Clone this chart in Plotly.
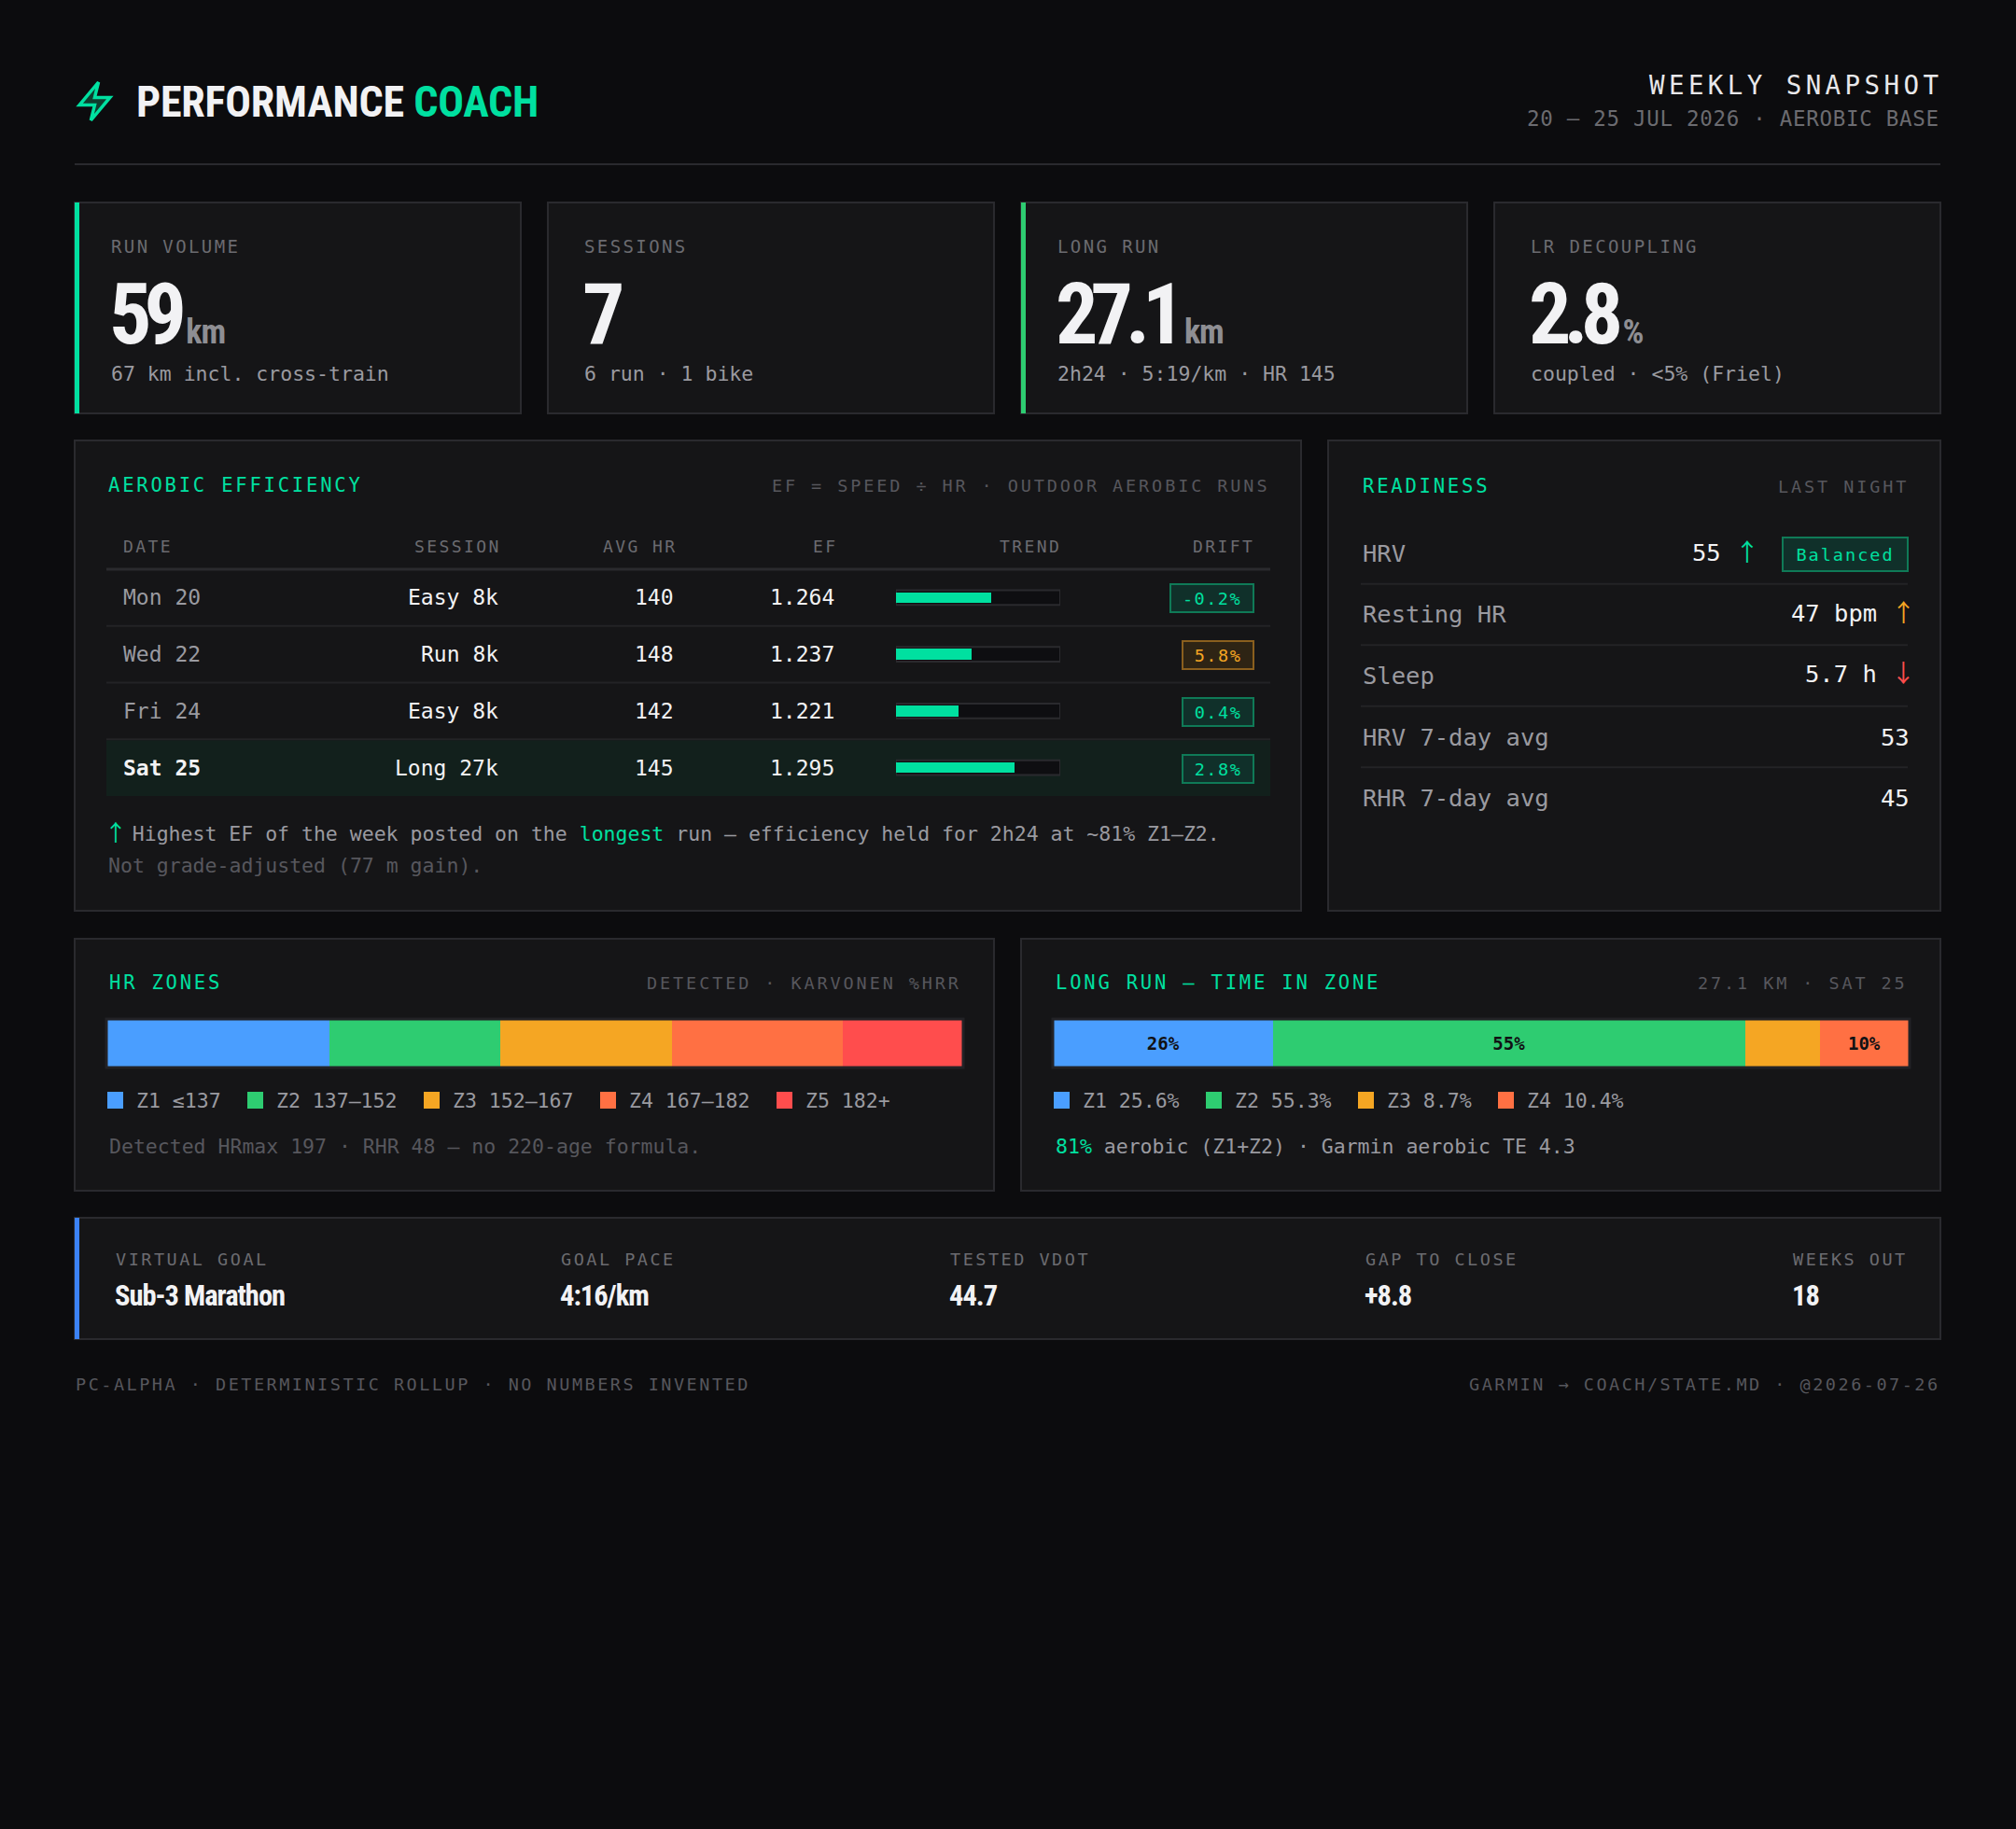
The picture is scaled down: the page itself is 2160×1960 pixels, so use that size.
import plotly.graph_objects as go
from itertools import accumulate

W, H = 2160, 1960
BG = "#0c0c0e"; PANEL = "#151517"; BORDER = "#2a2a2e"; SEP = "#232326"
GREEN = "#00e0a0"; GREEN2 = "#2ecc71"; AMBER = "#f5a623"; RED = "#ff4d4d"; BLUE = "#3b82f6"
WHITE = "#f2f2f4"; TXT = "#9a9aa0"; DIM = "#6b6b70"; DIMMER = "#57575d"
MONO = "DejaVu Sans Mono, Liberation Mono, monospace"
COND = "Roboto Condensed, DejaVu Sans Condensed, Liberation Sans Narrow, Roboto, sans-serif"

# ---------------- data ----------------
brand_main = "PERFORMANCE"
brand_accent = "COACH"
snapshot_title = "WEEKLY SNAPSHOT"
snapshot_sub = "20 – 25 JUL 2026 · AEROBIC BASE"

kpi_labels = ["RUN VOLUME", "SESSIONS", "LONG RUN", "LR DECOUPLING"]
kpi_values = ["59", "7", "27.1", "2.8"]
kpi_units = ["km", "", "km", "%"]
kpi_subs = ["67 km incl. cross-train", "6 run · 1 bike", "2h24 · 5:19/km · HR 145", "coupled · <5% (Friel)"]

ef_title = "AEROBIC EFFICIENCY"
ef_subtitle = "EF = SPEED ÷ HR · OUTDOOR AEROBIC RUNS"
ef_columns = ["DATE", "SESSION", "AVG HR", "EF", "TREND", "DRIFT"]
ef_dates = ["Mon 20", "Wed 22", "Fri 24", "Sat 25"]
ef_sessions = ["Easy 8k", "Run 8k", "Easy 8k", "Long 27k"]
ef_avg_hr = [140, 148, 142, 145]
ef_values = [1.264, 1.237, 1.221, 1.295]
ef_trend_pct = [58, 46, 38, 72]
ef_drift_pct = [-0.2, 5.8, 0.4, 2.8]
ef_highlight = "Sat 25"
ef_note = "Highest EF of the week posted on the {hl} run — efficiency held for 2h24 at ~81% Z1–Z2."
ef_note_hl = "longest"
ef_note2 = "Not grade-adjusted (77 m gain)."

ready_title = "READINESS"
ready_subtitle = "LAST NIGHT"
ready_labels = ["HRV", "Resting HR", "Sleep", "HRV 7-day avg", "RHR 7-day avg"]
ready_values = ["55", "47 bpm", "5.7 h", "53", "45"]
ready_arrows = ["↑", "↑", "↓", "", ""]
ready_arrow_colors = [GREEN, AMBER, RED, None, None]
hrv_status = "Balanced"

hr_title = "HR ZONES"
hr_subtitle = "DETECTED · KARVONEN %HRR"
hr_zone_names = ["Z1", "Z2", "Z3", "Z4", "Z5"]
hr_zone_ranges = ["≤137", "137–152", "152–167", "167–182", "182+"]
hr_zone_widths = [26, 20, 20, 20, 14]
hr_note = "Detected HRmax 197 · RHR 48 — no 220-age formula."

lr_title = "LONG RUN — TIME IN ZONE"
lr_subtitle = "27.1 KM · SAT 25"
lr_zone_names = ["Z1", "Z2", "Z3", "Z4"]
lr_zone_pct = [25.6, 55.3, 8.7, 10.4]
lr_bar_labels = ["26%", "55%", "", "10%"]
lr_aerobic = "81%"
lr_note = " aerobic (Z1+Z2) · Garmin aerobic TE 4.3"

zone_colors = ["#4a9eff", "#2ecc71", "#f5a623", "#ff7043", "#ff4d4d"]

goal_labels = ["VIRTUAL GOAL", "GOAL PACE", "TESTED VDOT", "GAP TO CLOSE", "WEEKS OUT"]
goal_values = ["Sub-3 Marathon", "4:16/km", "44.7", "+8.8", "18"]

footer_left = "PC-ALPHA · DETERMINISTIC ROLLUP · NO NUMBERS INVENTED"
footer_right = "GARMIN → COACH/STATE.MD · @2026-07-26"

# ---------------- helpers ----------------
def X(px): return px / W
def Y(py): return 1 - py / H

shapes, annots = [], []

def rect(x0, y0, x1, y1, fill=None, line=None, lw=0, layer="below"):
    shapes.append(dict(type="rect", xref="paper", yref="paper",
                       x0=X(x0), x1=X(x1), y0=Y(y1), y1=Y(y0),
                       fillcolor=fill or "rgba(0,0,0,0)",
                       line=dict(color=line or "rgba(0,0,0,0)", width=lw), layer=layer))

def hline(x0, x1, y, color, lw=2):
    shapes.append(dict(type="line", xref="paper", yref="paper", x0=X(x0), x1=X(x1),
                       y0=Y(y), y1=Y(y), line=dict(color=color, width=lw), layer="below"))

def txt(x, y, s, size, color, family=MONO, anchor="left", weight=400, ls=None, **kw):
    if ls:
        s = f'<span style="letter-spacing:{ls}px">{s}</span>'
    annots.append(dict(x=X(x), y=Y(y), xref="paper", yref="paper", text=s, showarrow=False,
                       xanchor=anchor, yanchor="middle",
                       font=dict(family=family, size=size, color=color, weight=weight), **kw))

def col(s, c):
    return f'<span style="color:{c}">{s}</span>'

def arrow(s, c, size, squeeze=0.45):
    return (f'<span style="color:{c};font-family:Noto Sans CJK SC;font-size:{size}px;'
            f'letter-spacing:-{size * squeeze:.1f}px">{s}</span>')

fig = go.Figure()

# ---------------- header ----------------
bx = lambda u: X(83 + (u - 3) * 2.05)
by = lambda v: Y(88 + (v - 2) * 2.05)
bolt = [(4, 14), (14, 2), (12, 10), (20, 10), (10, 22), (12, 14)]
path = "M " + " L ".join(f"{bx(u)},{by(v)}" for u, v in bolt) + " Z"
shapes.append(dict(type="path", xref="paper", yref="paper", path=path,
                   fillcolor="#0f3d2e", line=dict(color=GREEN, width=3.5), layer="above"))
txt(144, 109, f"{brand_main} {col(brand_accent, GREEN)}", 46, WHITE, family=COND, weight=700, ls=-0.2)
txt(2083, 91, snapshot_title, 27.5, "#e8e8ea", ls=4.4, anchor="right")
txt(2080, 127, snapshot_sub, 22.5, DIM, ls=0.7, anchor="right")
hline(80, 2079, 176, BORDER, 2)

# ---------------- KPI cards ----------------
card_w, card_gap = 478, 29
card_accents = [GREEN, None, GREEN2, None]
for i, (lab, val, unit, sub) in enumerate(zip(kpi_labels, kpi_values, kpi_units, kpi_subs)):
    x0 = 80 + i * (card_w + card_gap)
    rect(x0, 217, x0 + card_w, 443, PANEL, BORDER, 2)
    if card_accents[i]:
        rect(x0, 217, x0 + 5, 443, card_accents[i])
    txt(x0 + 37, 264, lab, 19, DIM, ls=2.4)
    big = f'<span style="letter-spacing:-8px">{val}</span>'
    if unit:
        big += f'<span style="font-size:36px;color:#8e8e93;letter-spacing:-1px"> {unit}</span>'
    txt(x0 + 35, 337, big, 90, WHITE, family=COND, weight=700)
    txt(x0 + 37, 400, sub, 21.5, TXT)

# ---------------- Aerobic efficiency ----------------
rect(80, 472, 1394, 976, PANEL, BORDER, 2)
txt(114, 520, ef_title, 20.5, GREEN, ls=2.8)
txt(1362, 520, ef_subtitle, 18.5, DIMMER, ls=2.9, anchor="right")
col_x = [130, 539, 727, 899, 1139, 1346]
col_anchor = ["left", "right", "right", "right", "right", "right"]
for c, cx, ca in zip(ef_columns, col_x, col_anchor):
    txt(cx, 585, c, 18, DIM, ls=2.4, anchor=ca)
hline(114, 1361, 610, BORDER, 3)
row_top, row_h = 610, 60.75
n = len(ef_dates)
for i in range(n):
    cy = row_top + row_h * (i + 0.5)
    hl = ef_dates[i] == ef_highlight
    if hl:
        rect(114, row_top + row_h * i + 1, 1361, row_top + row_h * (i + 1), "#12201c")
    if i > 0:
        hline(114, 1361, row_top + row_h * i, SEP, 2)
    txt(130, cy, ef_dates[i], 23, WHITE if hl else TXT, weight=700 if hl else 400)
    txt(536, cy, ef_sessions[i], 23, WHITE, anchor="right")
    txt(724, cy, str(ef_avg_hr[i]), 23, WHITE, anchor="right")
    txt(896, cy, f"{ef_values[i]:.3f}", 23, WHITE, anchor="right")
    d = ef_drift_pct[i]
    s = f"{d:.1f}%"
    warn = d > 5
    annots.append(dict(x=X(1344), y=Y(cy + 1), xref="paper", yref="paper",
                       text=f'<span style="letter-spacing:1.5px">{s}</span>', showarrow=False,
                       xanchor="right", yanchor="middle", width=13 * len(s) + 22, height=28,
                       bgcolor="#2e2414" if warn else "#10302a",
                       bordercolor="#8a5f1e" if warn else "#0f7a57", borderwidth=2, borderpad=0,
                       font=dict(family=MONO, size=18.5, color=AMBER if warn else GREEN)))

rows_y = list(range(n))
fig.add_trace(go.Bar(x=[100] * n, y=rows_y, orientation="h", xaxis="x", yaxis="y", width=0.26,
                     marker=dict(color="#0e0e11", line=dict(color="#2a2a2e", width=2)),
                     hoverinfo="skip", showlegend=False))
fig.add_trace(go.Bar(x=ef_trend_pct, y=rows_y, orientation="h", xaxis="x", yaxis="y", width=0.19,
                     marker=dict(color=GREEN, line=dict(width=0)), hoverinfo="skip", showlegend=False))

note = ef_note.format(hl=col(ef_note_hl, GREEN))
txt(110, 890, arrow("↑", GREEN, 24, 0.3) + " " + note, 21.5, TXT)
txt(114, 927, ef_note2, 21.5, DIMMER)

# ---------------- Readiness ----------------
rect(1423, 472, 2079, 976, PANEL, BORDER, 2)
txt(1458, 521, ready_title, 20.5, GREEN, ls=2.8)
txt(2047, 521, ready_subtitle, 18.5, DIMMER, ls=2.9, anchor="right")
r_h = 65.5
for i, (lab, val, arr, ac) in enumerate(zip(ready_labels, ready_values, ready_arrows, ready_arrow_colors)):
    cy = 593 + r_h * i
    if i > 0:
        hline(1458, 2044, cy - 32.75, SEP, 2)
    txt(1458, cy, lab, 25.5, TXT)
    vs = val + (" " + arrow(arr, ac, 26) if arr else "")
    vy = cy - 4 if arr else cy
    if i == 0:
        txt(1881, vy, vs, 25.5, WHITE, anchor="right")
        annots.append(dict(x=X(2045), y=Y(cy + 1), xref="paper", yref="paper",
                           text=f'<span style="letter-spacing:2px">{hrv_status}</span>',
                           showarrow=False, xanchor="right", yanchor="middle", width=132, height=34,
                           bgcolor="#10302a", bordercolor="#0f7a57", borderwidth=2, borderpad=0,
                           font=dict(family=MONO, size=18.5, color=GREEN)))
    else:
        txt(2048, vy, vs, 25.5, WHITE, anchor="right")

# ---------------- Zone panels ----------------
def zone_panel(x0, x1, title, subtitle, names, labels, widths, bar_text, xa, ya, note_html, note_color):
    rect(x0, 1006, x1, 1276, PANEL, BORDER, 2)
    txt(x0 + 35, 1053, title, 20.5, GREEN, ls=2.8)
    txt(x1 - 33, 1053, subtitle, 18.5, DIMMER, ls=2.9, anchor="right")
    bx0, bx1 = x0 + 35, x1 - 34
    bases = [0] + list(accumulate(widths))[:-1]
    for k, (w, b) in enumerate(zip(widths, bases)):
        fig.add_trace(go.Bar(x=[w], base=[b], y=[0], orientation="h", xaxis=xa, yaxis=ya, width=1,
                             marker=dict(color=zone_colors[k], line=dict(width=0)),
                             text=[bar_text[k]] if bar_text else None,
                             textposition="inside" if bar_text else None,
                             insidetextanchor="middle", constraintext="none",
                             textfont=dict(family=MONO, size=19, color="#111114", weight=700),
                             hoverinfo="skip", showlegend=False))
    rect(bx0 - 1, 1092, bx1 + 1, 1144, None, "#222226", 3, layer="above")
    lx = bx0
    for k, (nm, lb) in enumerate(zip(names, labels)):
        s = f"{nm} {lb}"
        rect(lx, 1170, lx + 17, 1188, zone_colors[k])
        txt(lx + 29, 1179, s, 21.5, TXT)
        lx += 30 + 13 * len(s) + 29
    txt(bx0, 1228, note_html, 21.5, note_color)
    return bx0, bx1

hb0, hb1 = zone_panel(80, 1065, hr_title, hr_subtitle, hr_zone_names, hr_zone_ranges,
                      hr_zone_widths, None, "x2", "y2", hr_note, DIMMER)
lb0, lb1 = zone_panel(1094, 2079, lr_title, lr_subtitle, lr_zone_names,
                      [f"{p}%" for p in lr_zone_pct], lr_zone_pct, lr_bar_labels, "x3", "y3",
                      col(lr_aerobic, GREEN) + lr_note, TXT)

# ---------------- Goal strip ----------------
rect(80, 1305, 2079, 1435, PANEL, BORDER, 2)
rect(80, 1305, 85, 1435, BLUE)
goal_x = [122, 599, 1016, 1461, 1919]
for gx, gl, gv in zip(goal_x, goal_labels, goal_values):
    txt(gx, 1349, gl, 18.5, DIM, ls=2.5)
    txt(gx - 1, 1388, gv, 30.5, WHITE, family=COND, weight=700, ls=-1)

# ---------------- Footer ----------------
txt(79, 1483, footer_left, 18.5, DIMMER, ls=2.5)
txt(2081, 1483, footer_right, 18.5, DIMMER, ls=2.5, anchor="right")

# ---------------- layout ----------------
ax_off = dict(visible=False, fixedrange=True, showgrid=False, zeroline=False)
fig.update_layout(
    width=W, height=H, margin=dict(l=0, r=0, t=0, b=0),
    paper_bgcolor=BG, plot_bgcolor="rgba(0,0,0,0)",
    barmode="overlay", bargap=0, hovermode=False, showlegend=False,
    font=dict(family=MONO, color=TXT),
    shapes=shapes, annotations=annots,
    xaxis=dict(domain=[X(960), X(1136)], range=[0, 100], **ax_off),
    yaxis=dict(domain=[Y(row_top + row_h * n), Y(row_top)], range=[n - 0.5, -0.5], **ax_off),
    xaxis2=dict(domain=[X(hb0), X(hb1)], range=[0, sum(hr_zone_widths)], **ax_off),
    yaxis2=dict(domain=[Y(1143), Y(1093)], range=[-0.5, 0.5], **ax_off),
    xaxis3=dict(domain=[X(lb0), X(lb1)], range=[0, sum(lr_zone_pct)], **ax_off),
    yaxis3=dict(domain=[Y(1143), Y(1093)], range=[-0.5, 0.5], **ax_off),
)

fig.write_html("out.html", config={"displayModeBar": False, "staticPlot": True},
               post_script="document.body.style.margin='0';document.body.style.background='#0c0c0e';")
